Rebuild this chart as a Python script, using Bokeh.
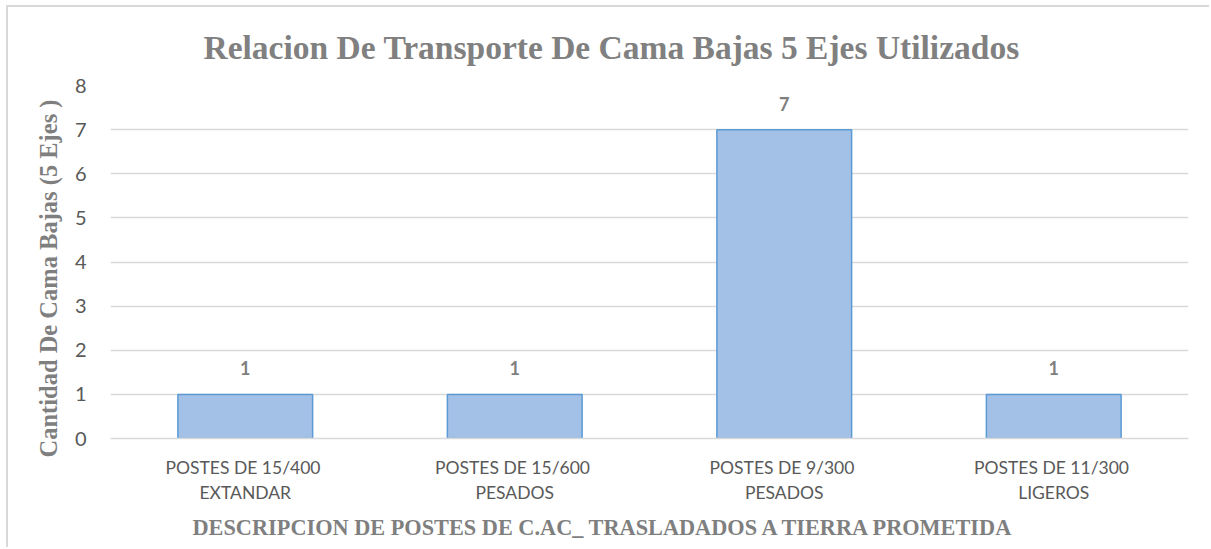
from bokeh.plotting import figure
from bokeh.models import ColumnDataSource, LabelSet, FactorRange, Range1d, Title
from bokeh.core.properties import value
from bokeh.embed import file_html
from bokeh.resources import INLINE

categories = ["POSTES DE  15/400\nEXTANDAR", "POSTES DE  15/600\nPESADOS",
              "POSTES DE  9/300\nPESADOS", "POSTES DE  11/300\nLIGEROS"]
values = [1, 1, 7, 1]
labels = [str(v) for v in values]

title = "Relacion De Transporte De Cama Bajas 5 Ejes  Utilizados"
y_title = "Cantidad De  Cama Bajas (5 Ejes )"
x_title = "DESCRIPCION  DE POSTES DE C.AC_ TRASLADADOS A TIERRA PROMETIDA"

src = ColumnDataSource(dict(cat=categories, val=values, lab=labels))

p = figure(x_range=FactorRange(*categories, range_padding=0), y_range=Range1d(0, 8),
           width=1203, height=542, output_backend="svg", toolbar_location=None,
           min_border_left=102, min_border_right=23,
           min_border_top=77, min_border_bottom=111)
p.margin = (5, 0, 0, 6)
p.styles = {"border-left": "2px solid #d9d9d9", "border-top": "2px solid #d9d9d9"}

p.vbar(x="cat", top="val", width=0.5, source=src, fill_color="#a3c1e6",
       line_color="#5b9bd5", line_width=1.5)

p.add_layout(LabelSet(x="cat", y="val", text="lab", source=src, y_offset=26,
                      text_align="center", text_baseline="middle",
                      text_font=value("Lato"), text_font_style="bold",
                      text_font_size="18px", text_color="#7f7f7f"))

p.add_layout(Title(text=title, align="left", offset=93, standoff=39,
                   text_font="Liberation Serif", text_font_size="33.5px",
                   text_font_style="bold", text_color="#808080"), "above")

p.outline_line_color = None
p.xgrid.grid_line_color = None
p.ygrid.grid_line_color = "#d9d9d9"
p.ygrid.grid_line_width = 1.5

p.yaxis.ticker = [0, 1, 2, 3, 4, 5, 6, 7, 8]
p.yaxis.axis_line_color = None
p.yaxis.major_tick_line_color = None
p.yaxis.minor_tick_line_color = None
p.yaxis.major_label_text_font = "Lato"
p.yaxis.major_label_text_font_size = "20px"
p.yaxis.major_label_text_color = "#595959"
p.yaxis.major_label_standoff = 18

p.xaxis.axis_line_color = "#d9d9d9"
p.xaxis.axis_line_width = 1.5
p.xaxis.major_tick_line_color = None
p.xaxis.minor_tick_line_color = None
p.xaxis.major_label_text_font = "Lato"
p.xaxis.major_label_text_font_size = "17.5px"
p.xaxis.major_label_text_color = "#595959"
p.xaxis.major_label_standoff = 12

# axis titles as side titles, so that they can sit off-centre like the reference
p.add_layout(Title(text=y_title, align="left", offset=-19, standoff=20,
                   text_font="Liberation Serif", text_font_style="bold",
                   text_font_size="24.5px", text_color="#7f7f7f"), "left")
p.add_layout(Title(text=x_title, align="left", offset=82, standoff=15,
                   text_font="Liberation Serif", text_font_style="bold",
                   text_font_size="22.3px", text_color="#7f7f7f"), "below")

open("out.html", "w").write(file_html(p, INLINE))
